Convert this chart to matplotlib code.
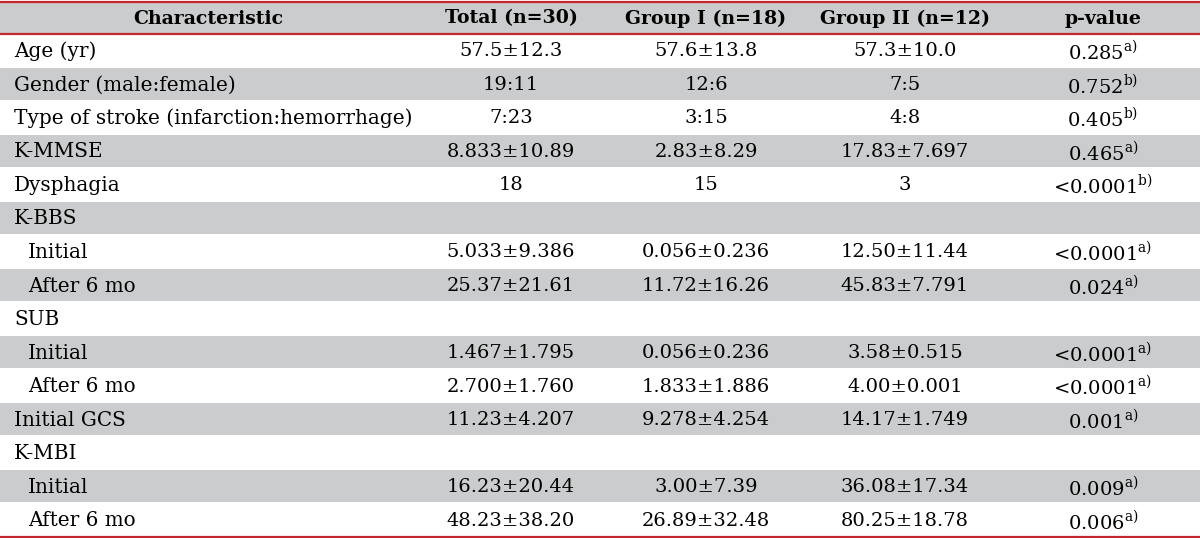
import matplotlib
matplotlib.use('Agg')
import matplotlib.pyplot as plt

plt.rcParams['font.family'] = ['DejaVu Serif']
plt.rcParams['mathtext.fontset'] = 'custom'
plt.rcParams['mathtext.rm'] = 'DejaVu Serif'

# table contents
headers = ['Characteristic', 'Total (n=30)', 'Group I (n=18)', 'Group II (n=12)', 'p-value']
labels = ['Age (yr)', 'Gender (male:female)', 'Type of stroke (infarction:hemorrhage)',
          'K-MMSE', 'Dysphagia', 'K-BBS', 'Initial', 'After 6 mo', 'SUB', 'Initial',
          'After 6 mo', 'Initial GCS', 'K-MBI', 'Initial', 'After 6 mo']
indent = [0, 0, 0, 0, 0, 0, 1, 1, 0, 1, 1, 0, 0, 1, 1]
total = ['57.5±12.3', '19:11', '7:23', '8.833±10.89', '18', '', '5.033±9.386', '25.37±21.61',
         '', '1.467±1.795', '2.700±1.760', '11.23±4.207', '', '16.23±20.44', '48.23±38.20']
group1 = ['57.6±13.8', '12:6', '3:15', '2.83±8.29', '15', '', '0.056±0.236', '11.72±16.26',
          '', '0.056±0.236', '1.833±1.886', '9.278±4.254', '', '3.00±7.39', '26.89±32.48']
group2 = ['57.3±10.0', '7:5', '4:8', '17.83±7.697', '3', '', '12.50±11.44', '45.83±7.791',
          '', '3.58±0.515', '4.00±0.001', '14.17±1.749', '', '36.08±17.34', '80.25±18.78']
pvals = ['0.285', '0.752', '0.405', '0.465', '<0.0001', '', '<0.0001', '0.024',
         '', '<0.0001', '<0.0001', '0.001', '', '0.009', '0.006']
notes = ['a)', 'b)', 'b)', 'a)', 'b)', '', 'a)', 'a)', '', 'a)', 'a)', 'a)', '', 'a)', 'a)']

grey = '#cbcccd'
red = '#c1272d'
fs = 14.4

fig = plt.figure(figsize=(12, 5.38), dpi=100)
ax = fig.add_axes([0, 0, 1, 1])
ax.set_xlim(0, 1200)
ax.set_ylim(538, 0)
ax.axis('off')

col_x = [208, 511, 706, 905, 1103]
head_top, head_bot = 1.5, 33.5
row_h = (536.5 - head_bot) / len(labels)

# header
ax.axhspan(head_top, head_bot, color=grey, lw=0)
for x, h in zip(col_x, headers):
    ax.text(x, (head_top + head_bot) / 2 + 1, h, ha='center', va='center',
            fontsize=13.6, fontweight='bold')

for i, lab in enumerate(labels):
    y0 = head_bot + i * row_h
    yc = y0 + row_h / 2 + 1
    if i % 2 == 1:
        ax.axhspan(y0 + 0.8, y0 + row_h - 0.8, color=grey, lw=0)
    ax.text(14 + 14 * indent[i], yc, lab, ha='left', va='center', fontsize=fs)
    for x, col in zip(col_x[1:4], [total, group1, group2]):
        ax.text(x, yc, col[i], ha='center', va='center', fontsize=fs - 0.4)
    if pvals[i]:
        ax.text(col_x[4], yc, pvals[i] + '$^{\\mathrm{' + notes[i] + '}}$',
                ha='center', va='center', fontsize=fs - 0.4)

ax.axhline(head_top, color=red, lw=1.6)
ax.axhline(head_bot, color=red, lw=1.6)
ax.axhline(536.5, color=red, lw=1.6)

fig.savefig('out.png', dpi=100)
